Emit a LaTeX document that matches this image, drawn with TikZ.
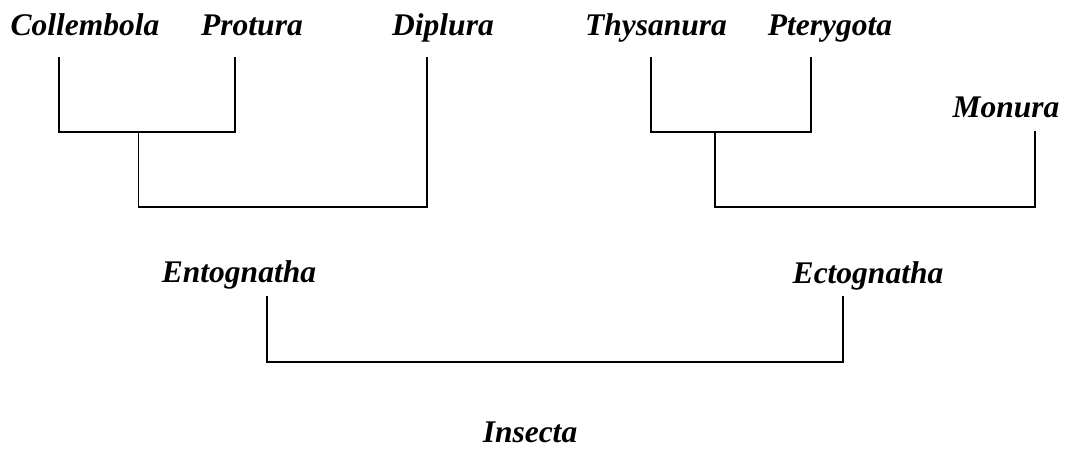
\documentclass[tikz,border=0pt]{standalone}
\usepackage{fontspec}
\setmainfont{Liberation Serif}
\begin{document}
\begin{tikzpicture}[x=1pt,y=-1pt,
  taxon/.style={anchor=base,inner sep=0pt,font=\fontsize{31.5}{36}\selectfont\bfseries\itshape},
  branch/.style={line width=1.4pt,line join=miter,line cap=rect}]
\useasboundingbox (0,0) rectangle (1066,448);
% labels
\node[taxon] (coll) at (85,35) {Collembola};
\node[taxon] (prot) at (252,35) {Protura};
\node[taxon] (dipl) at (443,35) {Diplura};
\node[taxon] (thys) at (656,35) {Thysanura};
\node[taxon] (pter) at (830,35) {Pterygota};
\node[taxon] (mon) at (1006,117) {Monura};
\node[taxon] (ento) at (239,282) {Entognatha};
\node[taxon] (ecto) at (868,283) {Ectognatha};
\node[taxon] (ins) at (530,442) {Insecta};
% branch ends
\coordinate (cT) at (59,58);
\coordinate (pT) at (235,58);
\coordinate (dT) at (427,58);
\coordinate (tT) at (651,58);
\coordinate (gT) at (811,58);
\coordinate (mT) at (1035,132);
\coordinate (enT) at (267,297);
\coordinate (ecT) at (843,297);
% junctions
\coordinate (j1) at (138.7,132);
\coordinate (j2) at (715,132);
\coordinate (bar2) at (0,207);
\coordinate (bar3) at (0,362);
% cladogram
\draw[branch] (cT) -- (cT |- j1) -- (pT |- j1) -- (pT);
\draw[branch] (j1) -- (j1 |- bar2) -- (dT |- bar2) -- (dT);
\draw[branch] (tT) -- (tT |- j2) -- (gT |- j2) -- (gT);
\draw[branch] (j2) -- (j2 |- bar2) -- (mT |- bar2) -- (mT);
\draw[branch] (enT) -- (enT |- bar3) -- (ecT |- bar3) -- (ecT);
\end{tikzpicture}
\end{document}
